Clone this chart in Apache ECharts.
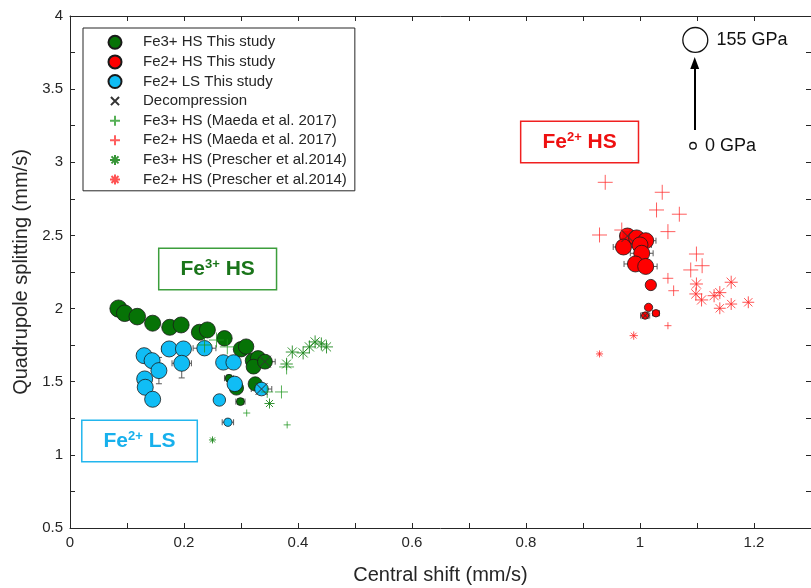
<!DOCTYPE html>
<html>
<head>
<meta charset="utf-8">
<script src="https://cdn.jsdelivr.net/npm/echarts@6/dist/echarts.min.js"></script>
<style>
  html, body { margin: 0; padding: 0; background: #fff; }
  #chart { width: 811px; height: 588px; }
</style>
</head>
<body>
<div id="chart"></div>
<script>
// [central shift, quadrupole splitting, pressure (GPa)]
const fe3HsThis = [
  [0.085, 2.000, 90], [0.096, 1.968, 85], [0.118, 1.945, 85], [0.145, 1.900, 80],
  [0.175, 1.872, 80], [0.195, 1.888, 80], [0.227, 1.838, 80], [0.241, 1.854, 80],
  [0.271, 1.797, 75], [0.300, 1.722, 75], [0.309, 1.740, 75], [0.321, 1.644, 75],
  [0.330, 1.660, 75], [0.322, 1.603, 70], [0.342, 1.637, 70], [0.325, 1.485, 65],
  [0.292, 1.457, 65], [0.279, 1.524, 10], [0.299, 1.364, 12]
];
const fe2HsThis = [
  [0.978, 2.496, 80], [0.971, 2.421, 80], [0.994, 2.483, 80], [1.010, 2.464, 80],
  [1.000, 2.435, 80], [1.003, 2.378, 80], [0.992, 2.305, 80], [1.010, 2.288, 80],
  [1.019, 2.161, 40], [1.015, 2.008, 15], [1.028, 1.968, 8], [1.009, 1.952, 8]
];
const fe2LsThis = [
  [0.130, 1.678, 80], [0.144, 1.644, 80], [0.156, 1.576, 80], [0.174, 1.724, 80],
  [0.199, 1.724, 80], [0.196, 1.626, 80], [0.131, 1.519, 80], [0.132, 1.462, 80],
  [0.145, 1.380, 80], [0.236, 1.729, 75], [0.269, 1.632, 75], [0.287, 1.632, 75],
  [0.262, 1.375, 50], [0.289, 1.485, 75], [0.277, 1.223, 15], [0.336, 1.450, 60]
];
const decompression = [
  [0.342, 1.637, 45], [0.336, 1.450, 45], [0.978, 2.496, 45], [1.009, 1.952, 5]
];
const fe3HsMaeda = [
  [0.236, 1.751, 71], [0.257, 1.785, 71], [0.276, 1.738, 71], [0.380, 1.601, 71],
  [0.371, 1.430, 55], [0.346, 1.430, 45], [0.310, 1.286, 5], [0.381, 1.205, 5]
];
const fe2HsMaeda = [
  [0.939, 2.863, 71], [1.039, 2.795, 71], [1.029, 2.674, 71], [1.069, 2.645, 71],
  [0.929, 2.503, 71], [0.968, 2.537, 71], [1.049, 2.526, 71], [1.099, 2.373, 71],
  [1.109, 2.293, 71], [1.089, 2.264, 71], [1.049, 2.207, 35], [1.059, 2.122, 35],
  [1.049, 1.883, 5]
];
const fe3HsPrescher = [
  [0.350, 1.351, 30], [0.380, 1.621, 50], [0.390, 1.703, 55], [0.409, 1.697, 55],
  [0.420, 1.738, 55], [0.430, 1.772, 55], [0.441, 1.758, 55], [0.450, 1.738, 55],
  [0.250, 1.102, 5]
];
const fe2HsPrescher = [
  [1.099, 2.168, 55], [1.098, 2.100, 55], [1.108, 2.059, 55], [1.130, 2.088, 55],
  [1.140, 2.109, 55], [1.160, 2.180, 55], [1.140, 2.002, 45], [1.160, 2.031, 45],
  [1.190, 2.043, 45], [0.989, 1.815, 15], [0.929, 1.690, 5]
];
// [x, y, x error, y error]
const errorBars = [
  [0.174, 1.724, 0.013, 0], [0.196, 1.626, 0.017, 0.10], [0.156, 1.576, 0, 0.09],
  [0.236, 1.729, 0.02, 0], [0.342, 1.637, 0.018, 0], [0.336, 1.450, 0.018, 0],
  [0.277, 1.223, 0.010, 0.02], [0.279, 1.524, 0.008, 0.02], [0.299, 1.364, 0.008, 0.02],
  [0.971, 2.421, 0.018, 0], [1.000, 2.435, 0.02, 0], [1.003, 2.378, 0.02, 0],
  [0.992, 2.305, 0.02, 0], [1.010, 2.288, 0.02, 0], [1.010, 2.464, 0.018, 0],
  [1.009, 1.952, 0.008, 0.015], [1.028, 1.968, 0.006, 0.012]
];
const pressureScale = [[1.093, 3.113, 0, '0 GPa'], [1.097, 3.836, 155, '155 GPa']];
const pressureArrow = [[1.096, 3.221], [1.096, 3.679]];
const phaseLabels = [
  [0.259, 2.271, '{t|Fe}{s|3+}{t| HS}', '#1a751a', '#3c9e3c'],
  [0.122, 1.095, '{t|Fe}{s|2+}{t| LS}', '#17b0ec', '#22b6ee'],
  [0.894, 3.139, '{t|Fe}{s|2+}{t| HS}', '#ee1010', '#f02020']
];
const legendNames = [
  'Fe3+ HS This study', 'Fe2+ HS This study', 'Fe2+ LS This study', 'Decompression',
  'Fe3+ HS (Maeda et al. 2017)', 'Fe2+ HS (Maeda et al. 2017)',
  'Fe3+ HS (Prescher et al.2014)', 'Fe2+ HS (Prescher et al.2014)'
];

const FONT = '"Liberation Sans", Arial, sans-serif';
const AX = '#262626';
const PLUS = 'path://M0,5H10M5,0V10';
const STAR = 'path://M0,5H10M5,0V10M1.5,1.5L8.5,8.5M8.5,1.5L1.5,8.5';
const CROSS = 'path://M0,0L10,10M10,0L0,10';
// legend versions: same shapes inside a larger invisible box so they draw smaller
const PLUS_L = 'path://M-1.5,-1.5L-1.5,-1.5M11.5,11.5L11.5,11.5M0,5H10M5,0V10';
const STAR_L = 'path://M-1.5,-1.5L-1.5,-1.5M11.5,11.5L11.5,11.5M0,5H10M5,0V10M1.5,1.5L8.5,8.5M8.5,1.5L1.5,8.5';
const CROSS_L = 'path://M-3,-3L-3,-3M13,13L13,13M0,0L10,10M10,0L0,10';
const legendIcons = ['circle', 'circle', 'circle', CROSS_L, PLUS_L, PLUS_L, STAR_L, STAR_L];
const sizeOf = v => 6.5 + v[2] * 0.119;

const circleSeries = (name, data, color) => ({
  name, type: 'scatter', data, symbol: 'circle', symbolSize: sizeOf,
  itemStyle: { color, borderColor: '#1a1a1a', borderWidth: 0.8, opacity: 1 }
});
const lineSeries = (name, data, symbol, color, z) => ({
  name, type: 'scatter', data, symbol, symbolSize: sizeOf, z,
  itemStyle: { color: 'none', borderColor: color, borderWidth: 1, opacity: 1 }
});

const axisCommon = {
  type: 'value',
  axisLine: { show: true, onZero: false, lineStyle: { color: AX, width: 1 } },
  axisTick: { show: true, inside: true, length: 5, lineStyle: { color: AX } },
  minorTick: { show: true, splitNumber: 2, length: 5, lineStyle: { color: AX } },
  splitLine: { show: false },
  axisLabel: { color: AX, fontSize: 15, fontFamily: FONT, margin: 7 }
};

const chart = echarts.init(document.getElementById('chart'));
chart.setOption({
  animation: false,
  textStyle: { fontFamily: FONT },
  grid: { left: 70, right: 0, top: 16, bottom: 60, outerBoundsMode: 'none', containLabel: false },
  xAxis: [
    Object.assign({}, axisCommon, {
      min: 0, max: 1.3, interval: 0.2, position: 'bottom',
      axisLabel: Object.assign({}, axisCommon.axisLabel, { showMaxLabel: false }),
      name: 'Central shift (mm/s)', nameLocation: 'middle', nameGap: 37,
      nameTextStyle: { color: AX, fontSize: 20, fontFamily: FONT }
    }),
    Object.assign({}, axisCommon, {
      min: 0, max: 1.3, interval: 0.2, position: 'top',
      axisLabel: { show: false }
    })
  ],
  yAxis: [
    Object.assign({}, axisCommon, {
      min: 0.5, max: 4, interval: 0.5, position: 'left',
      name: 'Quadrupole splitting (mm/s)', nameLocation: 'middle', nameGap: 37,
      nameTextStyle: { color: AX, fontSize: 20, fontFamily: FONT }
    }),
    Object.assign({}, axisCommon, {
      min: 0.5, max: 4, interval: 0.5, position: 'right',
      axisLabel: { show: false }
    })
  ],
  legend: {
    data: legendNames.map((name, i) => ({ name, icon: legendIcons[i] })),
    orient: 'vertical',
    left: 83, top: 28,
    padding: [4.5, 8, 1.5, 23],
    itemWidth: 46, itemHeight: 13, itemGap: 0,
    borderColor: AX, borderWidth: 1, backgroundColor: '#fff',
    textStyle: { color: AX, fontSize: 15, lineHeight: 19.6, fontFamily: FONT }
  },
  series: [
    {
      type: 'custom', silent: true, z: 1,
      data: errorBars,
      encode: { x: 0, y: 1 },
      renderItem: (params, api) => {
        const x = api.value(0), y = api.value(1), ex = api.value(2), ey = api.value(3);
        const style = { stroke: '#5a5a5a', lineWidth: 1 };
        const kids = [];
        const seg = (a, b) => kids.push({ type: 'line', shape: { x1: a[0], y1: a[1], x2: b[0], y2: b[1] }, style });
        if (ex > 0) {
          const l = api.coord([x - ex, y]), r = api.coord([x + ex, y]);
          seg(l, r);
          seg([l[0], l[1] - 3], [l[0], l[1] + 3]);
          seg([r[0], r[1] - 3], [r[0], r[1] + 3]);
        }
        if (ey > 0) {
          const t = api.coord([x, y + ey]), b = api.coord([x, y - ey]);
          seg(t, b);
          seg([t[0] - 3, t[1]], [t[0] + 3, t[1]]);
          seg([b[0] - 3, b[1]], [b[0] + 3, b[1]]);
        }
        return { type: 'group', children: kids };
      }
    },
    circleSeries('Fe3+ HS This study', fe3HsThis, '#067306'),
    circleSeries('Fe2+ LS This study', fe2LsThis, '#10bdf5'),
    circleSeries('Fe2+ HS This study', fe2HsThis, '#ff0000'),
    lineSeries('Decompression', decompression, CROSS, '#333333', 4),
    lineSeries('Fe3+ HS (Maeda et al. 2017)', fe3HsMaeda, PLUS, 'rgba(30,150,30,0.75)', 3),
    lineSeries('Fe2+ HS (Maeda et al. 2017)', fe2HsMaeda, PLUS, 'rgba(255,40,40,0.75)', 3),
    lineSeries('Fe3+ HS (Prescher et al.2014)', fe3HsPrescher, STAR, 'rgba(20,130,20,0.85)', 3),
    lineSeries('Fe2+ HS (Prescher et al.2014)', fe2HsPrescher, STAR, 'rgba(255,40,40,0.8)', 3),
    {
      type: 'scatter', silent: true, z: 5,
      data: pressureScale,
      symbol: 'circle', symbolSize: sizeOf,
      itemStyle: { color: '#fff', borderColor: '#111', borderWidth: 1.3, opacity: 1 },
      label: {
        show: true, position: 'right', distance: 8,
        formatter: p => p.data[3],
        color: '#111', fontSize: 18, fontFamily: FONT
      },
      markLine: {
        silent: true, symbol: ['none', 'triangle'], symbolSize: [9, 12],
        lineStyle: { color: '#000', width: 2, type: 'solid', opacity: 1 },
        label: { show: false },
        data: [[{ coord: pressureArrow[0] }, { coord: pressureArrow[1] }]]
      }
    },
    {
      type: 'scatter', silent: true, z: 6,
      data: phaseLabels.map(d => ({
        value: [d[0], d[1]],
        label: {
          formatter: d[2], borderColor: d[4],
          rich: {
            t: { color: d[3], fontSize: 21, fontWeight: 'bold', fontFamily: FONT, lineHeight: 24 },
            s: { color: d[3], fontSize: 13, fontWeight: 'bold', fontFamily: FONT, padding: [0, 0, 9, 0] }
          }
        }
      })),
      symbolSize: 2,
      itemStyle: { color: 'rgba(0,0,0,0)', opacity: 1 },
      label: {
        show: true, position: 'inside',
        borderWidth: 1.5, padding: [8, 21, 8, 21], backgroundColor: '#fff'
      }
    }
  ]
});
</script>
</body>
</html>
